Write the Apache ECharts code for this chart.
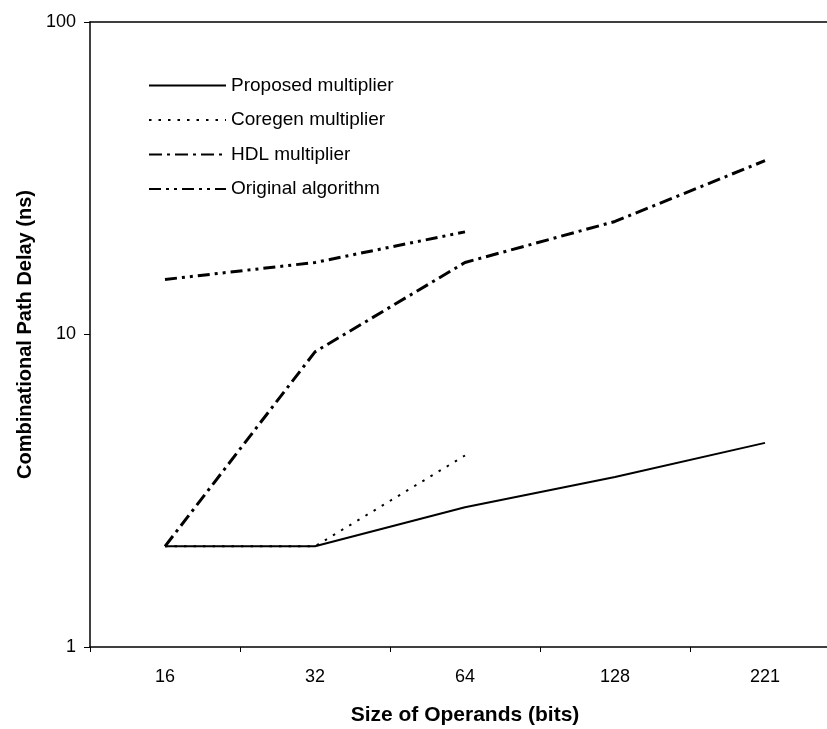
<!DOCTYPE html>
<html>
<head>
<meta charset="utf-8">
<script src="https://cdn.jsdelivr.net/npm/echarts@6/dist/echarts.min.js"></script>
<style>
  html, body { margin: 0; padding: 0; background: #fff; }
  #chart { width: 827px; height: 729px; }
</style>
</head>
<body>
<div id="chart"></div>
<script>
const categories = ['16', '32', '64', '128', '221'];
const proposed = [2.1, 2.1, 2.8, 3.5, 4.5];
const coregen = [2.1, 2.1, 4.1, null, null];
const hdl = [2.1, 8.8, 17, 23, 36];
const original = [15, 17, 21.3, null, null];

const FONT = '"Liberation Sans", Arial, sans-serif';
const chart = echarts.init(document.getElementById('chart'), null, { renderer: 'canvas' });

function mk(name, data, width, dash) {
  return {
    name: name,
    type: 'line',
    data: data,
    symbol: 'none',
    showSymbol: false,
    connectNulls: false,
    animation: false,
    lineStyle: { color: '#000', width: width, type: dash },
    itemStyle: { color: '#000' },
    emphasis: { disabled: true }
  };
}

chart.setOption({
  animation: false,
  backgroundColor: '#fff',
  grid: {
    left: 90, width: 750, top: 22, bottom: 82,
    outerBoundsMode: 'none',
    containLabel: false,
    show: false
  },
  legend: {
    orient: 'vertical',
    left: 143,
    top: 71,
    itemWidth: 77,
    itemHeight: 16,
    itemGap: 15.5,
    itemStyle: { opacity: 0 },
    textStyle: { fontFamily: FONT, fontSize: 19, color: '#000', padding: [0, 0, 0, 0] },
    data: ['Proposed multiplier', 'Coregen multiplier', 'HDL multiplier', 'Original algorithm']
  },
  xAxis: [{
    type: 'category',
    data: categories,
    boundaryGap: true,
    axisLine: { show: true, lineStyle: { color: '#000', width: 1.5 } },
    axisTick: { show: true, length: 5, lineStyle: { color: '#000', width: 1 } },
    axisLabel: { fontFamily: FONT, fontSize: 18, color: '#000', margin: 21 },
    name: 'Size of Operands (bits)',
    nameLocation: 'middle',
    nameGap: 58,
    nameTextStyle: { fontFamily: FONT, fontSize: 21, fontWeight: 'bold', color: '#000' },
    splitLine: { show: false }
  }, {
    type: 'category',
    data: categories,
    position: 'top',
    axisLine: { show: true, onZero: false, lineStyle: { color: '#000', width: 1.5 } },
    axisTick: { show: false },
    axisLabel: { show: false },
    splitLine: { show: false }
  }],
  yAxis: {
    type: 'log',
    logBase: 10,
    min: 1,
    max: 100,
    axisLine: { show: true, lineStyle: { color: '#000', width: 1.5 } },
    axisTick: { show: true, length: 6, lineStyle: { color: '#000', width: 1 } },
    axisLabel: { fontFamily: FONT, fontSize: 18, color: '#000', margin: 14 },
    splitLine: { show: false },
    minorTick: { show: false },
    name: 'Combinational Path Delay (ns)',
    nameLocation: 'middle',
    nameGap: 55,
    nameRotate: 90,
    nameTextStyle: { fontFamily: FONT, fontSize: 20, fontWeight: 'bold', color: '#000' }
  },
  series: [
    mk('Proposed multiplier', proposed, 2, 'solid'),
    mk('Coregen multiplier', coregen, 2, [2.5, 7]),
    mk('HDL multiplier', hdl, 3, [13, 5, 3, 5]),
    mk('Original algorithm', original, 3, [12, 5, 3, 5, 3, 5])
  ]
});
</script>
</body>
</html>
